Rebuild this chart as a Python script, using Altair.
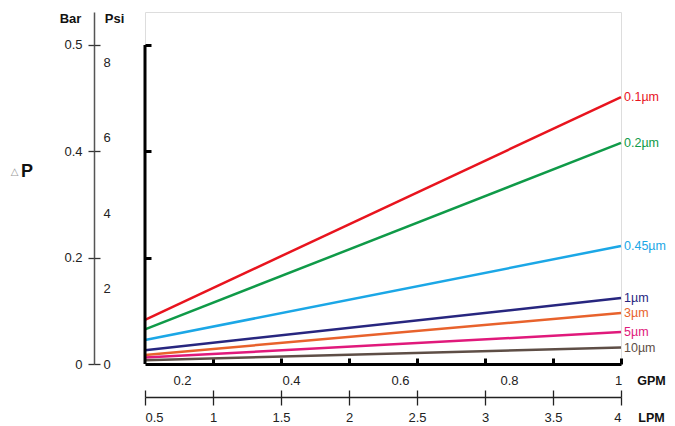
import altair as alt
import pandas as pd

# ---- data ----
sizes = ["0.1µm", "0.2µm", "0.45µm", "1µm", "3µm", "5µm", "10µm"]
colors = ["#e8141e", "#0f9a48", "#1ba7e6", "#27267f", "#e8622c", "#e0197b", "#5e4e46"]
lpm_ends = [0.5, 4.0]
dp_start_bar = [0.083, 0.065, 0.045, 0.026, 0.017, 0.012, 0.007]
dp_end_bar = [0.502, 0.416, 0.222, 0.124, 0.096, 0.060, 0.031]

bar_ticks = [0, 0.2, 0.4, 0.6]
psi_ticks = [0, 2, 4, 6, 8]
lpm_ticks = [0.5, 1, 1.5, 2, 2.5, 3, 3.5, 4]
gpm_ticks = [0.2, 0.4, 0.6, 0.8, 1]
frame_top_bar = 0.6

BAR_DOMAIN = [0, 0.662]
PSI_DOMAIN = [0, 9.325]
LPM_DOMAIN = [0.5, 4]
GPM_DOMAIN = [0.132, 1.0055]

W, H = 476, 352
FONT = "Liberation Sans"

rows = []
for s, a, b in zip(sizes, dp_start_bar, dp_end_bar):
    rows.append({"size": s, "lpm": lpm_ends[0], "bar": a})
    rows.append({"size": s, "lpm": lpm_ends[1], "bar": b})
lines_df = pd.DataFrame(rows)
end_df = pd.DataFrame({"size": sizes, "lpm": [lpm_ends[1]] * len(sizes), "bar": dp_end_bar})
frame_df = pd.DataFrame({"lpm": [lpm_ends[0]], "b0": [0.0], "b1": [frame_top_bar]})
psi_df = pd.DataFrame({"psi": psi_ticks})
gpm_df = pd.DataFrame({"gpm": gpm_ticks})

lpm_scale = alt.Scale(domain=LPM_DOMAIN, nice=False, zero=False)
bar_scale = alt.Scale(domain=BAR_DOMAIN, nice=False)
psi_scale = alt.Scale(domain=PSI_DOMAIN, nice=False)
gpm_scale = alt.Scale(domain=GPM_DOMAIN, nice=False, zero=False)
color_scale = alt.Scale(domain=sizes, range=colors)

title_common = dict(titleAngle=0, titleAlign="center", titleBaseline="middle", titleFont=FONT)
label_common = dict(labelFont=FONT, labelFontSize=13, labelColor="#222", grid=False)

# Layer A: lines + inner frame axes
lines = alt.Chart(lines_df).mark_line(strokeWidth=2.5).encode(
    x=alt.X("lpm:Q", scale=lpm_scale,
            axis=alt.Axis(orient="top", offset=-H, values=lpm_ticks[1:], labels=False, title=None,
                          domainColor="black", domainWidth=3, tickColor="black", tickWidth=3,
                          tickSize=6, grid=False)),
    y=alt.Y("bar:Q", scale=bar_scale,
            axis=alt.Axis(orient="right", offset=-W, values=[0.2, 0.4, 0.6], labels=False, domain=False,
                          tickColor="black", tickWidth=3, tickSize=6, grid=False,
                          title="△", titleX=-131, titleY=159.5, titleFontSize=10,
                          titleColor="#999", titleFontWeight="normal",
                          titleAngle=0, titleAlign="center", titleBaseline="middle",
                          titleFont="DejaVu Sans")),
    color=alt.Color("size:N", scale=color_scale, legend=None),
)

# Layer B: end labels
labels = alt.Chart(end_df).mark_text(align="left", baseline="middle", dx=3, fontSize=12.5, font=FONT).encode(
    x=alt.X("lpm:Q", scale=lpm_scale, axis=None),
    y=alt.Y("bar:Q", scale=bar_scale, axis=None),
    text="size:N",
    color=alt.Color("size:N", scale=color_scale, legend=None),
)

# Layer C: inner frame left line
frame = alt.Chart(frame_df).mark_rule(color="black", strokeWidth=3).encode(
    x=alt.X("lpm:Q", scale=lpm_scale, axis=None),
    y=alt.Y("b0:Q", scale=bar_scale, axis=None),
    y2="b1:Q",
)

# Layer D: LPM axis (bottom) + Bar axis (left)
axes_d = alt.Chart(lines_df).mark_point(opacity=0).encode(
    x=alt.X("lpm:Q", scale=lpm_scale,
            axis=alt.Axis(orient="bottom", offset=33, values=lpm_ticks, format="~g",
                          domainColor="#222", domainWidth=1.3, tickColor="#222", tickWidth=1.3,
                          tickSize=8, labelPadding=6, **label_common,
                          title="LPM", titleX=506, titleY=20, titleFontSize=12.5,
                          titleFontWeight="bold", titleColor="#111",
                          titleAngle=0, titleAlign="center", titleBaseline="middle", titleFont=FONT)),
    y=alt.Y("bar:Q", scale=bar_scale,
            axis=alt.Axis(orient="left", offset=51, values=bar_ticks, format="~g",
                          labelExpr="datum.value > 0.5 ? '0.5' : datum.label",
                          domainColor="#555", domainWidth=1.5, tickColor="#333", tickWidth=1.3,
                          tickSize=6, labelPadding=6, **label_common,
                          title="Bar", titleX=-24, titleY=6.5, titleFontSize=13,
                          titleFontWeight="bold", titleColor="#111", **title_common)),
)

# Layer E: Psi axis + upward ticks of LPM axis
axes_e = alt.Chart(psi_df).mark_point(opacity=0).encode(
    x=alt.X(datum=lpm_ends[0], type="quantitative", scale=lpm_scale,
            axis=alt.Axis(orient="top", offset=-(H + 33), values=lpm_ticks, labels=False, domain=False,
                          tickColor="#222", tickWidth=1.3, tickSize=7, grid=False, title=None)),
    y=alt.Y("psi:Q", scale=psi_scale,
            axis=alt.Axis(orient="left", offset=51, values=psi_ticks, format="~g", domain=False,
                          ticks=False, tickSize=0, labelAlign="left", labelPadding=-9, **label_common,
                          title="Psi", titleX=20, titleY=6.5, titleFontSize=13,
                          titleFontWeight="bold", titleColor="#111", **title_common)),
)

# Layer F: GPM labels + right-side ticks of Bar axis
axes_f = alt.Chart(gpm_df).mark_point(opacity=0).encode(
    x=alt.X("gpm:Q", scale=gpm_scale,
            axis=alt.Axis(orient="bottom", offset=0, values=gpm_ticks, format="~g", domain=False,
                          ticks=False, tickSize=0, labelPadding=10, **label_common,
                          title="GPM", titleX=506, titleY=16, titleFontSize=12.5,
                          titleFontWeight="bold", titleColor="#111",
                          titleAngle=0, titleAlign="center", titleBaseline="middle", titleFont=FONT)),
    y=alt.Y(datum=0, type="quantitative", scale=bar_scale,
            axis=alt.Axis(orient="right", offset=-(W + 51), values=bar_ticks, labels=False, domain=False,
                          tickColor="#333", tickWidth=1.3, tickSize=6, grid=False,
                          title="P", titleX=-67.5, titleY=159.5, titleFontSize=18,
                          titleFontWeight="bold", titleColor="#111", **title_common)),
)

chart = alt.layer(axes_d, axes_e, axes_f, lines, frame, labels).resolve_scale(
    x="independent", y="independent"
).properties(
    width=W,
    height=H,
    padding={"left": 137, "top": 4, "right": 46, "bottom": 62},
    autosize=alt.AutoSizeParams(type="none"),
    title=alt.TitleParams("MP-10, Polypropylene", offset=1, baseline="alphabetic", anchor="middle",
                          frame="group", fontSize=14, font=FONT, fontWeight="normal", color="#111", dx=-6),
).configure_view(stroke=None).configure(background="white")

chart.save("out.html", embed_options={"renderer": "svg", "actions": False})
